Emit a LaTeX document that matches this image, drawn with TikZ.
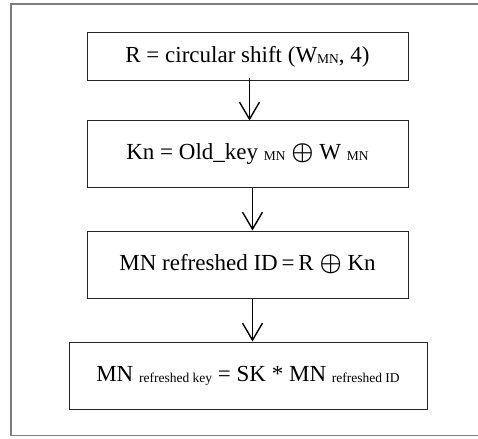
\documentclass[tikz,border=0pt]{standalone}
\usepackage{fontspec}
\setmainfont{Liberation Serif}
\usetikzlibrary{arrows.meta, positioning}
\definecolor{framegray}{RGB}{125, 125, 125}
\newcommand{\sbs}[1]{{\fontsize{13.5}{14}\selectfont\raisebox{-1pt}{#1}}}
\newcommand{\xorop}{{\boldmath$\oplus$}}

\begin{document}
\begin{tikzpicture}[x=1pt, y=-1pt,
    stepbox/.style={draw=black!85, line width=1pt, minimum width=321pt, minimum height=48pt, inner sep=0pt, font=\fontsize{23}{26}\selectfont},
    flow/.style={-{Straight Barb[length=17pt, width=20pt, line width=1.4pt]}, line width=1.4pt}]
  \useasboundingbox (0,0) rectangle (478,438);
  % outer frame
  \draw[framegray, line width=1.2pt] (478,4) -- (11,4) -- (11,435.5) -- (478,435.5);

  \node[stepbox] (shift) at (247.5,57) {R = circular shift (W\sbs{MN}, 4)};
  \node[stepbox, minimum height=66pt, below=39pt of shift] (kn) {Kn = Old\_key \sbs{MN} \xorop{} W \sbs{MN}};
  \node[stepbox, minimum height=67pt, below=43pt of kn] (refid) {MN refreshed ID\,=\,R \xorop{} Kn};
  \node[stepbox, minimum width=358pt, minimum height=67pt, below=43pt of refid, xshift=0.5pt] (refkey) {MN \sbs{refreshed key} = SK * MN \sbs{refreshed ID}};

  \draw[flow] ([xshift=2pt, yshift=3pt]shift.south) -- ([xshift=2pt]kn.north);
  \draw[flow] ([xshift=5pt]kn.south) -- ([xshift=5pt]refid.north);
  \draw[flow] ([xshift=5pt]refid.south) -- ([xshift=4.5pt]refkey.north);
\end{tikzpicture}
\end{document}
